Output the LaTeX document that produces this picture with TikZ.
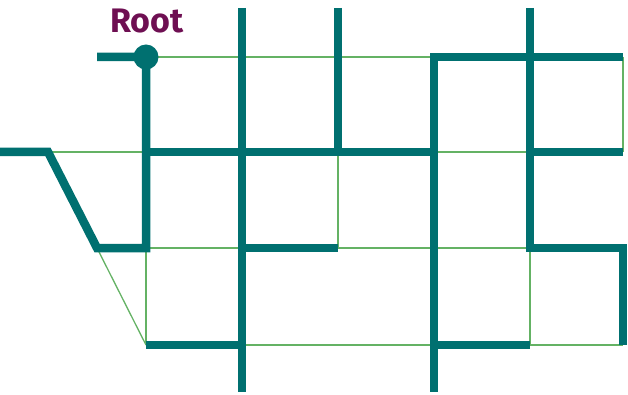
\documentclass[tikz,border=0pt]{standalone}
\usepackage{fontspec}
\setmainfont{Fira Sans}
\definecolor{teal1}{RGB}{0,112,112}
\definecolor{thin1}{RGB}{100,178,100}
\definecolor{rootc}{RGB}{110,15,82}
\begin{document}
\begin{tikzpicture}[x=1pt,y=-1pt,
  thickline/.style={draw=teal1,line width=8.5pt,line join=miter,line cap=butt},
  thinline/.style={draw=thin1,line width=1.3pt}]
\useasboundingbox (0,0) rectangle (628,395);
% grid coordinates
\foreach \c/\x in {a/146,b/242,c/338,d/434,e/530,f/623}{
  \foreach \r/\y in {1/57,2/152,3/248,4/345}{
    \coordinate (\c\r) at (\x,\y);
  }
}
\coordinate (l0) at (0,152);
\coordinate (l1) at (48,152);
\coordinate (l2) at (97,248);
\coordinate (r0) at (97,57);
\coordinate (bt) at (242,8);
\coordinate (ct) at (338,8);
\coordinate (et) at (530,8);
\coordinate (bb) at (242,392);
\coordinate (db) at (434,392);
% thin lines
\draw[thinline] (a1) -- (d1);
\draw[thinline] (l1) -- (a2);
\draw[thinline] (d2) -- (e2);
\draw[thinline] (a3) -- (b3);
\draw[thinline] (c3) -- (e3);
\draw[thinline] (b4) -- (d4);
\draw[thinline] (e4) -- (f4);
\draw[thinline] (l2) -- (a4);
\draw[thinline] (a3) -- (a4);
\draw[thinline] (c2) -- (c3);
\draw[thinline] (e3) -- (e4);
\draw[thinline] (f1) -- (f2);
% thick lines
\draw[thickline] (r0) -- (a1) -- (a3) -- (l2) -- (l1) -- (l0);
\draw[thickline] (a2) -- (d2);
\draw[thickline] (f1) -- (d1) -- (db);
\draw[thickline] (bt) -- (bb);
\draw[thickline] (ct) -- (c2);
\draw[thickline] (et) -- (e3) -- (f3) -- (f4);
\draw[thickline] (e2) -- (f2);
\draw[thickline] (b3) -- (c3);
\draw[thickline] (a4) -- (b4);
\draw[thickline] (d4) -- (e4);
% root
\node[circle,fill=teal1,minimum size=25pt,inner sep=0pt] (root) at (a1) {};
\node[anchor=base,text=rootc,font=\bfseries\fontsize{34}{34}\selectfont,inner sep=0pt] (rootlabel) at (147,33) {Root};
\end{tikzpicture}
\end{document}
